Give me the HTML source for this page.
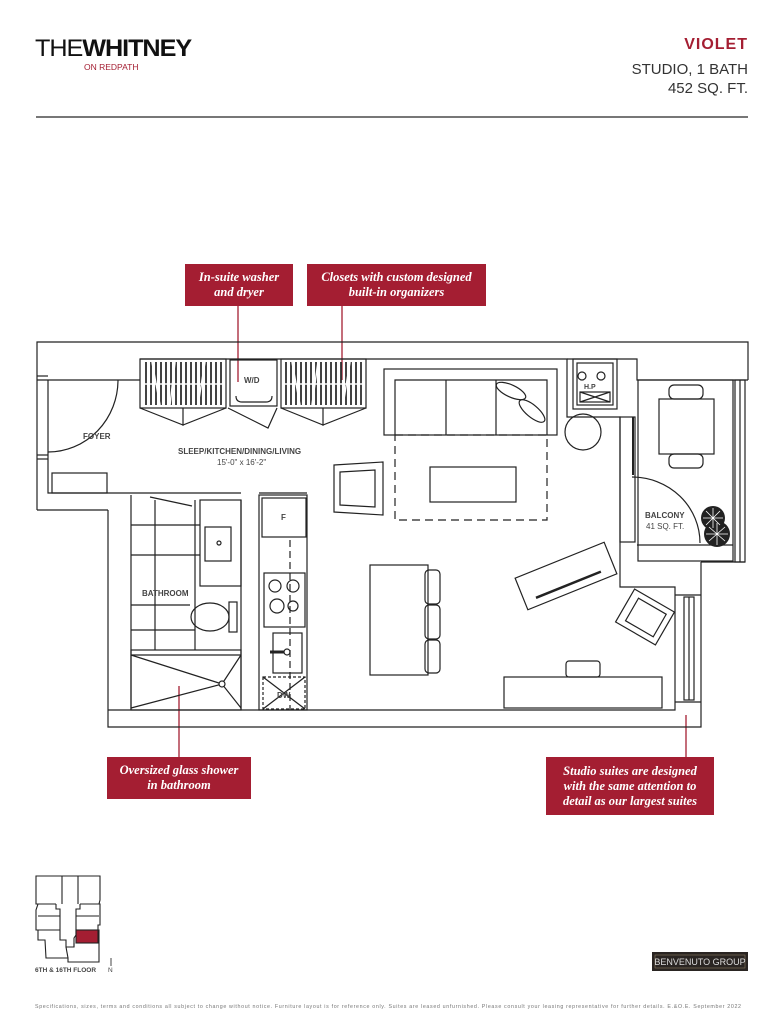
<!DOCTYPE html>
<html><head><meta charset="utf-8"><style>
html,body{margin:0;padding:0;background:#fff;}
body{width:783px;height:1024px;position:relative;overflow:hidden;font-family:"Liberation Sans",sans-serif;}
.cb{position:absolute;background:#a41e32;color:#fff;font-family:"Liberation Serif",serif;font-style:italic;font-weight:bold;font-size:12.5px;line-height:15px;text-align:center;display:flex;align-items:center;justify-content:center;}
</style></head><body>
<div style="position:absolute;left:35px;top:36px;font-size:24px;letter-spacing:-1px;line-height:26px;color:#111;transform:scaleX(1.05);transform-origin:left;"><span style="font-weight:normal;">THE</span><span style="font-weight:bold;">WHITNEY</span></div>
<div style="position:absolute;left:84px;top:62px;font-size:8.5px;color:#a41e32;">ON REDPATH</div>
<div style="position:absolute;right:35px;top:36px;font-size:16px;font-weight:bold;color:#a41e32;letter-spacing:1px;">VIOLET</div>
<div style="position:absolute;right:35px;top:60px;font-size:15px;color:#333;text-align:right;line-height:19px;">STUDIO, 1 BATH<br>452 SQ. FT.</div>
<div style="position:absolute;left:36px;top:116px;width:712px;height:2px;background:#777;"></div>

<div class="cb" style="left:185px;top:264px;width:108px;height:42px;">In-suite washer<br>and dryer</div>
<div class="cb" style="left:307px;top:264px;width:179px;height:42px;">Closets with custom designed<br>built-in organizers</div>
<div class="cb" style="left:107px;top:757px;width:144px;height:42px;">Oversized glass shower<br>in bathroom</div>
<div class="cb" style="left:546px;top:757px;width:168px;height:58px;">Studio suites are designed<br>with the same attention to<br>detail as our largest suites</div>

<svg width="783" height="1024" style="position:absolute;left:0;top:0" xmlns="http://www.w3.org/2000/svg">
<defs>
<pattern id="hatch" width="5" height="49" patternUnits="userSpaceOnUse">
<rect x="0" y="0" width="2" height="49" fill="#222"/>
</pattern>
</defs>
<g stroke="#a41e32" stroke-width="1.3">
<line x1="238" y1="306" x2="238" y2="382"/><line x1="342" y1="306" x2="342" y2="380"/>
<line x1="179" y1="686" x2="179" y2="757"/><line x1="686" y1="715" x2="686" y2="757"/>
</g>
<!-- closet hatch -->
<rect x="143" y="362" width="80" height="43" fill="url(#hatch)" opacity="0.85"/>
<rect x="284" y="362" width="79" height="43" fill="url(#hatch)" opacity="0.85"/>
<g stroke="#fff" stroke-width="1.5">
<line x1="140" y1="384" x2="226" y2="384"/><line x1="281" y1="384" x2="366" y2="384"/>
<line x1="152" y1="362" x2="160" y2="405"/><line x1="175" y1="362" x2="170" y2="405"/><line x1="205" y1="362" x2="198" y2="405"/>
<line x1="292" y1="362" x2="300" y2="405"/><line x1="318" y1="362" x2="312" y2="405"/><line x1="350" y1="362" x2="343" y2="405"/>
</g>
<g fill="none" stroke="#222" stroke-width="1.2">
<!-- outer walls -->
<polyline points="37,510 37,342 748,342 748,380"/>
<polyline points="108,510 108,727 701,727 701,562"/>
<line x1="37" y1="510" x2="108" y2="510"/>
<polyline points="48,380 48,493 131,493"/>
<line x1="37" y1="380" x2="140" y2="380"/>
<line x1="37" y1="376" x2="48" y2="376"/><line x1="37" y1="455" x2="48" y2="455"/><line x1="37" y1="459" x2="48" y2="459"/>
<polyline points="140,359 567,359 567,417 620,417 620,587 675,587 675,710 108,710"/>
<polyline points="567,359 637,359 637,380 748,380"/>
<line x1="131" y1="493" x2="241" y2="493"/><line x1="259" y1="493" x2="307" y2="493"/>
<!-- foyer door -->
<path d="M118,380 A70,72 0 0 1 48,452"/>
<rect x="52" y="473" width="55" height="20"/>
<!-- closets -->
<rect x="140" y="359" width="86" height="49"/><rect x="281" y="359" width="85" height="49"/>
<rect x="230" y="360" width="47" height="46"/>
<path d="M236,396 Q236,402 242,402 L266,402 Q272,402 272,396"/>
<path d="M140,408 L183,425 L183,408 M183,408 L183,425 L226,408"/>
<path d="M228,408 L268,428 L277,408"/>
<path d="M281,408 L323,425 L323,408 M323,408 L323,425 L366,408"/>
<!-- bathroom -->
<line x1="131" y1="495" x2="131" y2="710"/><line x1="241" y1="500" x2="241" y2="710"/>
<line x1="150" y1="497" x2="192" y2="506"/>
<rect x="200" y="500" width="41" height="86"/>
<rect x="205" y="527" width="26" height="34"/>
<circle cx="219" cy="543" r="2"/>
<ellipse cx="210" cy="617" rx="19" ry="14"/><rect x="229" y="602" width="8" height="30"/>
<line x1="131" y1="525" x2="200" y2="525"/><line x1="131" y1="555" x2="200" y2="555"/><line x1="131" y1="605" x2="190" y2="605"/><line x1="131" y1="630" x2="195" y2="630"/>
<line x1="155" y1="500" x2="155" y2="650"/><line x1="195" y1="500" x2="195" y2="650"/>
<rect x="131" y="650" width="110" height="60"/>
<line x1="131" y1="655" x2="241" y2="655"/>
<path d="M131,655 L222,684 L241,655 M131,708 L222,684 L241,708"/>
<circle cx="222" cy="684" r="3" fill="#fff"/>
<!-- kitchen -->
<rect x="259" y="495" width="48" height="215"/>
<rect x="262" y="498" width="44" height="39"/>
<rect x="264" y="573" width="41" height="54"/>
<circle cx="275" cy="586" r="6"/><circle cx="293" cy="586" r="6"/><circle cx="277" cy="606" r="7"/><circle cx="293" cy="606" r="5"/>
<rect x="273" y="633" width="29" height="40"/><circle cx="287" cy="652" r="3"/><line x1="270" y1="652" x2="284" y2="652" stroke-width="3"/>
<rect x="263" y="677" width="42" height="32" stroke-dasharray="3,2"/>
<line x1="263" y1="677" x2="305" y2="709"/><line x1="305" y1="677" x2="263" y2="709"/>
<line x1="290" y1="540" x2="290" y2="710" stroke-dasharray="7,4"/>
<!-- living -->
<rect x="384" y="369" width="173" height="66"/>
<path d="M395,435 L395,380 L547,380 L547,435 M446,380 L446,435 M496,380 L496,435"/>
<rect x="395" y="435" width="152" height="85" stroke-dasharray="8,5"/>
<rect x="430" y="467" width="86" height="35"/>
<ellipse cx="511" cy="391" rx="16" ry="6" transform="rotate(25 511 391)"/>
<ellipse cx="532" cy="411" rx="16" ry="6" transform="rotate(40 532 411)"/>
<circle cx="583" cy="432" r="18"/>
<rect x="573" y="359" width="44" height="50"/><rect x="577" y="363" width="36" height="42"/>
<circle cx="582" cy="376" r="4"/><circle cx="601" cy="376" r="4"/>
<rect x="580" y="392" width="30" height="10"/><path d="M580,392 L610,402 M610,392 L580,402"/>
<path d="M334,465 L383,462 L383,515 L334,512 Z M340,472 L375,470 L375,507 L340,505 Z"/>
<rect x="370" y="565" width="58" height="110"/>
<rect x="425" y="570" width="15" height="34" rx="4"/><rect x="425" y="605" width="15" height="34" rx="4"/><rect x="425" y="640" width="15" height="33" rx="4"/>
<rect x="504" y="677" width="158" height="31"/>
<rect x="566" y="661" width="34" height="16" rx="3"/>
<g transform="rotate(-22 566 576)"><rect x="518" y="559" width="96" height="34"/><line x1="530" y1="585" x2="600" y2="585" stroke-width="2.5"/></g>
<g transform="rotate(30 645 617)"><rect x="622" y="598" width="46" height="38"/><rect x="630" y="604" width="32" height="26"/></g>
<!-- balcony -->
<rect x="638" y="380" width="95" height="181"/>
<line x1="637" y1="545" x2="733" y2="545"/>
<rect x="735" y="380" width="10" height="182"/><line x1="740" y1="380" x2="740" y2="562"/>
<line x1="701" y1="562" x2="745" y2="562"/>
<rect x="659" y="399" width="55" height="55"/>
<rect x="669" y="385" width="34" height="14" rx="5"/><rect x="669" y="454" width="34" height="14" rx="5"/>
<path d="M632,477 A68,66 0 0 1 700,543"/>
<rect x="620" y="417" width="15" height="125"/><line x1="633" y1="417" x2="633" y2="475" stroke-width="2"/>
<rect x="684" y="597" width="10" height="103"/><line x1="689" y1="597" x2="689" y2="700"/>
<line x1="675" y1="595" x2="701" y2="595"/><line x1="675" y1="702" x2="701" y2="702"/>
</g>
<g fill="#222"><circle cx="713" cy="518" r="12"/><circle cx="717" cy="534" r="13"/></g>
<g stroke="#fff" stroke-width="0.8"><path d="M713,508 L713,528 M703,518 L723,518 M706,511 L720,525 M720,511 L706,525 M717,523 L717,545 M706,534 L728,534 M709,527 L725,541 M725,527 L709,541"/></g>
<g font-family="Liberation Sans,sans-serif" font-weight="bold" font-size="8" fill="#444">
<text x="83" y="439">FOYER</text>
<text x="178" y="454">SLEEP/KITCHEN/DINING/LIVING</text>
<text x="142" y="596">BATHROOM</text>
<text x="244" y="383">W/D</text>
<text x="281" y="520">F</text>
<text x="584" y="389" font-size="7">H.P</text>
<text x="277" y="698">DW</text>
<text x="645" y="518">BALCONY</text>
<text x="646" y="529" font-weight="normal">41 SQ. FT.</text>
<text x="217" y="465" font-weight="normal">15'-0" x 16'-2"</text>
</g>
<!-- key plan -->
<rect x="76" y="930" width="22" height="13" fill="#a41e32"/>
<g fill="none" stroke="#222" stroke-width="1.1">
<path d="M36,876 L100,876 L100,900 L99,904 L100,904 L100,925 L98,925 L98,930 L99,930 L99,962 L68,962 L68,958 L46,958 L45,940 L38,940 L38,930 L36,930 L36,910 L38,904 L36,904 Z"/>
<line x1="62" y1="876" x2="62" y2="904"/><line x1="78" y1="876" x2="78" y2="904"/>
<line x1="36" y1="904" x2="56" y2="904"/><line x1="80" y1="904" x2="100" y2="904"/>
<path d="M56,904 L56,909 L60,909 L60,940 L66,940 L66,947 L74,947 L74,938 L76,935 L76,909 L80,909 L80,904"/>
<line x1="38" y1="916" x2="60" y2="916"/><line x1="76" y1="916" x2="99" y2="916"/>
<line x1="38" y1="930" x2="60" y2="930"/>
<line x1="66" y1="947" x2="68" y2="958"/>
<line x1="74" y1="947" x2="74" y2="943"/>
<rect x="76" y="930" width="22" height="13"/>
</g>
<text x="35" y="972" font-size="6.5" font-weight="bold" fill="#444" font-family="Liberation Sans,sans-serif">6TH &amp; 16TH FLOOR</text>
<text x="108" y="972" font-size="6.5" fill="#444" font-family="Liberation Sans,sans-serif">N</text>
<line x1="111" y1="958" x2="111" y2="966" stroke="#444"/>
<rect x="652" y="952" width="96" height="19" fill="#2a2522"/>
<rect x="655" y="955" width="90" height="13" fill="none" stroke="#8a7a60" stroke-width="0.6"/>
<text x="700" y="965" font-size="9" fill="#ddd" text-anchor="middle" font-family="Liberation Sans,sans-serif">BENVENUTO GROUP</text>
<text x="35" y="1008" font-size="5.3" fill="#777" font-family="Liberation Sans,sans-serif" textLength="706">Specifications, sizes, terms and conditions all subject to change without notice. Furniture layout is for reference only. Suites are leased unfurnished. Please consult your leasing representative for further details. E.&amp;O.E. September 2022</text>
</svg>
</body></html>
